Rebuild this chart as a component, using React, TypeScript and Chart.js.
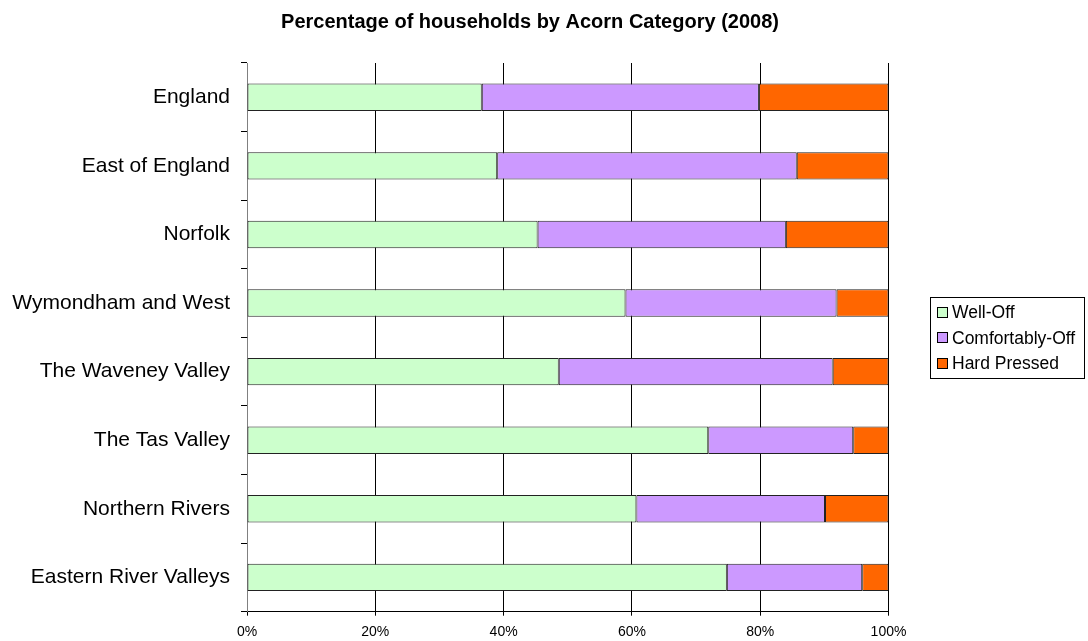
import React, { useEffect, useRef } from "react";
import { Chart, registerables } from "chart.js";

Chart.register(...registerables);

const categories = [
  "England",
  "East of England",
  "Norfolk",
  "Wymondham and West",
  "The Waveney Valley",
  "The Tas Valley",
  "Northern Rivers",
  "Eastern River Valleys",
];
const wellOff = [36.6, 39.0, 45.3, 59.0, 48.6, 71.9, 60.7, 74.8];
const comfortablyOff = [43.2, 46.7, 38.7, 32.9, 42.7, 22.6, 29.4, 21.1];
const hardPressed = [20.2, 14.3, 16.0, 8.1, 8.7, 5.5, 9.9, 4.1];
const seriesNames = ["Well-Off", "Comfortably-Off", "Hard Pressed"];
const seriesColors = ["#CCFFCC", "#CC99FF", "#FF6600"];
const titleText = "Percentage of households by Acorn Category (2008)";

const FONT = "Arial, 'Liberation Sans', sans-serif";

const titlePlugin = {
  id: "customTitle",
  afterDraw(chart: any) {
    const ctx = chart.ctx;
    ctx.save();
    ctx.font = `bold 20px ${FONT}`;
    ctx.fillStyle = "#000";
    ctx.textAlign = "center";
    ctx.textBaseline = "middle";
    ctx.fillText(titleText, 530, 22);
    ctx.restore();
  },
};

const legendPlugin = {
  id: "customLegend",
  afterDraw(chart: any) {
    const ctx = chart.ctx;
    const left = 930.5;
    const top = 297.5;
    const w = 154;
    const rowH = 25.7;
    const h = 81;
    ctx.save();
    ctx.fillStyle = "#fff";
    ctx.fillRect(left, top, w, h);
    ctx.strokeStyle = "#000";
    ctx.lineWidth = 1;
    ctx.strokeRect(left, top, w, h);
    ctx.font = `17.5px ${FONT}`;
    ctx.textAlign = "left";
    ctx.textBaseline = "middle";
    chart.data.datasets.forEach((ds: any, i: number) => {
      const cy = 312 + i * rowH;
      ctx.fillStyle = ds.backgroundColor;
      ctx.fillRect(937.5, Math.round(cy - 5.5) + 0.5, 10, 10);
      ctx.strokeStyle = "#000";
      ctx.strokeRect(937.5, Math.round(cy - 5.5) + 0.5, 10, 10);
      ctx.fillStyle = "#000";
      ctx.fillText(ds.label, 952, cy + 1);
    });
    ctx.restore();
  },
};

export default function App() {
  const ref = useRef<HTMLCanvasElement>(null);

  useEffect(() => {
    if (!ref.current) return;
    const seriesData = [wellOff, comfortablyOff, hardPressed];
    const chart = new Chart(ref.current, {
      type: "bar",
      data: {
        labels: categories,
        datasets: seriesNames.map((name, i) => ({
          label: name,
          data: seriesData[i],
          backgroundColor: seriesColors[i],
          borderColor: "#222",
          borderWidth: 1,
          borderSkipped: false,
          barPercentage: 0.4,
          categoryPercentage: 1,
        })),
      },
      options: {
        indexAxis: "y",
        responsive: false,
        animation: false,
        maintainAspectRatio: false,
        layout: { padding: { top: 63, right: 199.5, bottom: 0, left: 0 } },
        plugins: {
          legend: { display: false },
          title: { display: false },
          tooltip: { enabled: false },
        },
        scales: {
          x: {
            stacked: true,
            min: 0,
            max: 100,
            ticks: {
              stepSize: 20,
              callback: (v: any) => v + "%",
              color: "#000",
              font: { family: FONT, size: 14 },
              padding: 8,
              maxRotation: 0,
            },
            grid: {
              color: "#000",
              lineWidth: 1,
              drawTicks: true,
              tickLength: 4,
              tickColor: "#000",
            },
            border: { display: true, color: "#000", width: 1 },
            afterFit: (scale: any) => {
              scale.height = 29.3;
            },
          },
          y: {
            stacked: true,
            ticks: {
              color: "#000",
              font: { family: FONT, size: 21 },
              padding: 11,
            },
            grid: {
              offset: true,
              drawOnChartArea: false,
              drawTicks: true,
              tickLength: 6,
              color: "#000",
              tickColor: "#000",
            },
            border: { display: true, color: "#808080", width: 1 },
            afterFit: (scale: any) => {
              scale.width = 247;
            },
          },
        },
      },
      plugins: [titlePlugin, legendPlugin],
    } as any);
    return () => chart.destroy();
  }, []);

  return (
    <div style={{ position: "absolute", left: 0, top: 0, width: 1088, height: 641, background: "#fff" }}>
      <canvas ref={ref} width={1088} height={641} style={{ display: "block" }} />
    </div>
  );
}
